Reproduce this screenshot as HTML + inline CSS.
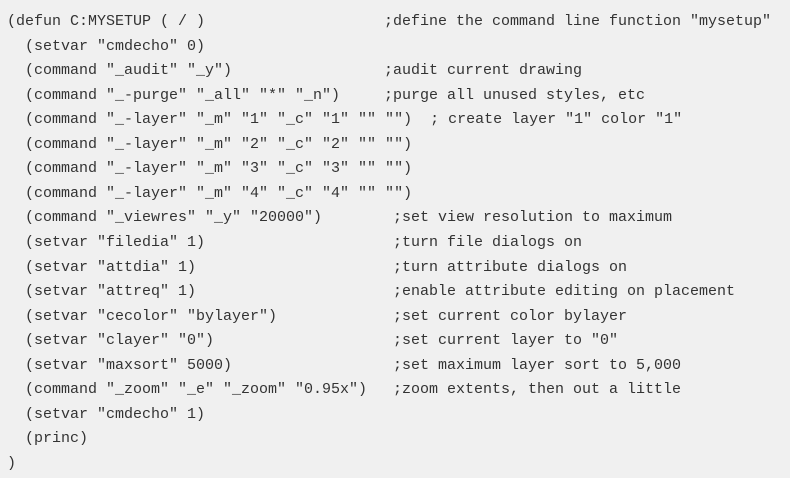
<!DOCTYPE html>
<html><head><style>
html,body{margin:0;padding:0;}
body{width:790px;height:478px;background:#f0f0f0;overflow:hidden;position:relative;
font-family:"Liberation Mono",monospace;font-size:15px;color:#333;}
.l{position:absolute;left:7px;height:20px;line-height:20px;white-space:pre;}
.c{position:absolute;white-space:pre;height:20px;line-height:20px;}
</style></head><body>
<div class="l" style="top:12px">(defun C:MYSETUP ( / )</div><div class="c" style="top:12px;left:384px">;define the command line function "mysetup"</div>
<div class="l" style="top:36.5px">  (setvar "cmdecho" 0)</div>
<div class="l" style="top:61px">  (command "_audit" "_y")</div><div class="c" style="top:61px;left:384px">;audit current drawing</div>
<div class="l" style="top:85.6px">  (command "_-purge" "_all" "*" "_n")</div><div class="c" style="top:85.6px;left:384px">;purge all unused styles, etc</div>
<div class="l" style="top:110.2px">  (command "_-layer" "_m" "1" "_c" "1" "" "")  ; create layer "1" color "1"</div>
<div class="l" style="top:134.7px">  (command "_-layer" "_m" "2" "_c" "2" "" "")</div>
<div class="l" style="top:159.3px">  (command "_-layer" "_m" "3" "_c" "3" "" "")</div>
<div class="l" style="top:183.8px">  (command "_-layer" "_m" "4" "_c" "4" "" "")</div>
<div class="l" style="top:208.4px">  (command "_viewres" "_y" "20000")</div><div class="c" style="top:208.4px;left:393px">;set view resolution to maximum</div>
<div class="l" style="top:233px">  (setvar "filedia" 1)</div><div class="c" style="top:233px;left:393px">;turn file dialogs on</div>
<div class="l" style="top:257.5px">  (setvar "attdia" 1)</div><div class="c" style="top:257.5px;left:393px">;turn attribute dialogs on</div>
<div class="l" style="top:282px">  (setvar "attreq" 1)</div><div class="c" style="top:282px;left:393px">;enable attribute editing on placement</div>
<div class="l" style="top:306.6px">  (setvar "cecolor" "bylayer")</div><div class="c" style="top:306.6px;left:393px">;set current color bylayer</div>
<div class="l" style="top:331.2px">  (setvar "clayer" "0")</div><div class="c" style="top:331.2px;left:393px">;set current layer to "0"</div>
<div class="l" style="top:355.7px">  (setvar "maxsort" 5000)</div><div class="c" style="top:355.7px;left:393px">;set maximum layer sort to 5,000</div>
<div class="l" style="top:380.3px">  (command "_zoom" "_e" "_zoom" "0.95x")</div><div class="c" style="top:380.3px;left:393px">;zoom extents, then out a little</div>
<div class="l" style="top:404.8px">  (setvar "cmdecho" 1)</div>
<div class="l" style="top:429.4px">  (princ)</div>
<div class="l" style="top:454px">)</div>
</body></html>
